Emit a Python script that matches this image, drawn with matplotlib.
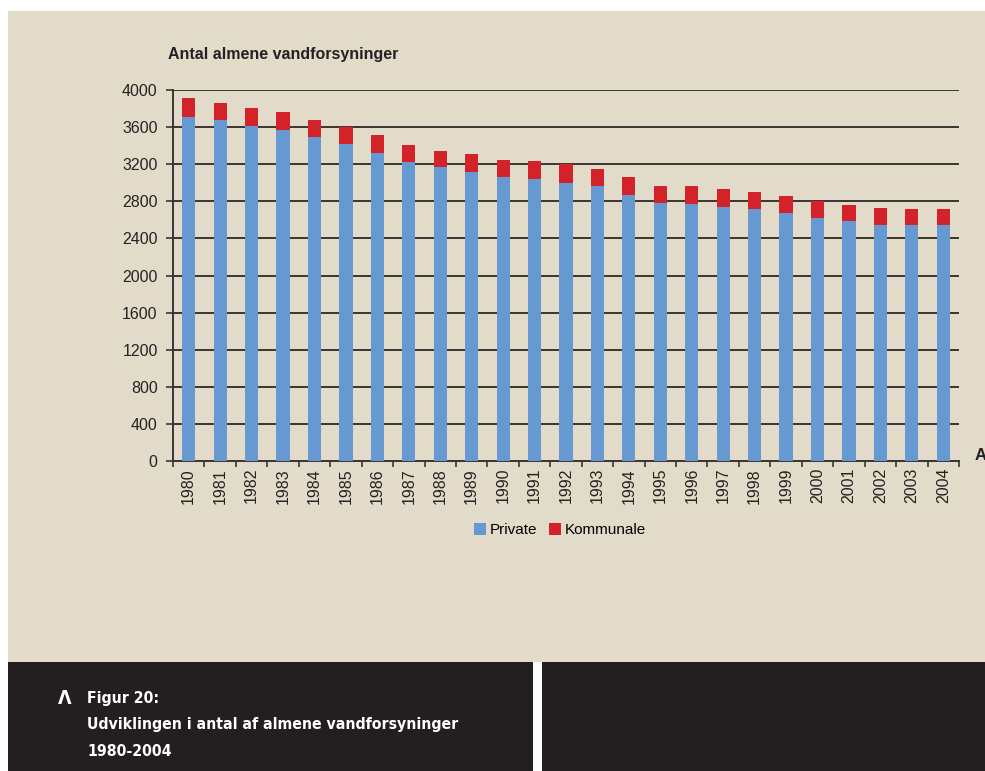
import matplotlib
matplotlib.use('Agg')
import matplotlib.pyplot as plt
import matplotlib.patches as patches
import numpy as np

# data
aar = [str(a) for a in range(1980, 2005)]
private = [3710, 3680, 3610, 3565, 3495, 3420, 3320, 3220, 3165, 3120, 3060, 3045, 3000,
           2960, 2870, 2785, 2770, 2740, 2715, 2670, 2625, 2585, 2540, 2540, 2540]
total = [3915, 3865, 3810, 3765, 3680, 3605, 3520, 3405, 3345, 3305, 3245, 3230, 3200,
         3145, 3060, 2970, 2960, 2930, 2900, 2855, 2805, 2755, 2730, 2715, 2715]
kommunale = [t - p for t, p in zip(total, private)]
y_ticks = list(range(0, 4001, 400))

# farver
beige = '#e2dbc9'
moerk = '#231f20'
blaa = '#6699d1'
roed = '#d3222a'
linje = '#3b3431'

W, H = 985, 771
fig = plt.figure(figsize=(W / 100, H / 100), dpi=100, facecolor='white')

def px(x0, y0, x1, y1):
    # pixel-boks (top-venstre origo) -> figurkoordinater
    return (x0 / W, 1 - y1 / H, (x1 - x0) / W, (y1 - y0) / H)

# baggrund og bundbjælke
for (x0, y0, x1, y1, c) in [(8, 11, 985, 662, beige), (8, 662, 533, 771, moerk), (542, 662, 985, 771, moerk)]:
    l, b, w, h = px(x0, y0, x1, y1)
    fig.patches.append(patches.Rectangle((l, b), w, h, transform=fig.transFigure,
                                         facecolor=c, edgecolor='none', zorder=-5))

ax = fig.add_axes(px(173, 90, 959, 461))
ax.set_facecolor('none')
ax.set_zorder(2)

x = np.arange(len(aar))
ax.bar(x, private, width=0.42, color=blaa, zorder=3, label='Private')
ax.bar(x, kommunale, width=0.42, bottom=private, color=roed, zorder=3, label='Kommunale')

ax.set_xlim(-0.5, len(aar) - 0.5)
ax.set_ylim(0, 4000)
ax.set_yticks(y_ticks)
ax.set_yticklabels([str(v) for v in y_ticks], fontsize=11.5, family='Liberation Sans', color='#222222')
ax.yaxis.grid(True, color=linje, linewidth=1.4, zorder=1)
ax.set_axisbelow(True)

ax.set_xticks(x)
ax.set_xticklabels(aar, rotation=90, fontsize=11.5, family='Liberation Sans', color='#222222')
ax.set_xticks(np.arange(-0.5, len(aar)), minor=True)
ax.tick_params(axis='x', which='major', length=0, pad=5)
ax.tick_params(axis='x', which='minor', length=4, width=1.2, color=linje, direction='out')
ax.tick_params(axis='y', length=5, width=1.2, color=linje, direction='out', pad=6)

for s in ['top', 'right']:
    ax.spines[s].set_visible(False)
for s in ['left', 'bottom']:
    ax.spines[s].set_color(linje)
    ax.spines[s].set_linewidth(1.4)

# titel over y-aksen
fig.text(168 / W, 1 - 54 / H, 'Antal almene vandforsyninger', fontsize=11.5, fontweight='bold',
         family='Liberation Sans', color='#222222', va='center', ha='left')
# afskåret aksetitel til højre (kun "A" er synlig i originalen)
fig.text(975 / W, 1 - 456 / H, 'A', fontsize=12, fontweight='bold',
         family='Liberation Sans', color='#222222', va='center', ha='left')

ax.legend(loc='center', bbox_to_anchor=(560 / W, 1 - 530 / H), bbox_transform=fig.transFigure,
          ncol=2, frameon=False, handlelength=0.8, handleheight=0.8,
          handletextpad=0.2, columnspacing=0.8, prop={'family': 'Liberation Sans', 'size': 11})

# figurtekst i bunden
fod = dict(fontweight='bold', family='DejaVu Sans', fontstretch='condensed', color='white', va='center')
fig.text(58 / W, 1 - 698 / H, 'Λ', fontsize=14, **fod)
fig.text(87 / W, 1 - 698 / H, 'Figur 20:', fontsize=11.3, **fod)
fig.text(87 / W, 1 - 725 / H, 'Udviklingen i antal af almene vandforsyninger', fontsize=11.3, **fod)
fig.text(87 / W, 1 - 752 / H, '1980-2004', fontsize=11.3, **fod)

fig.savefig('out.png', dpi=100, facecolor='white')
